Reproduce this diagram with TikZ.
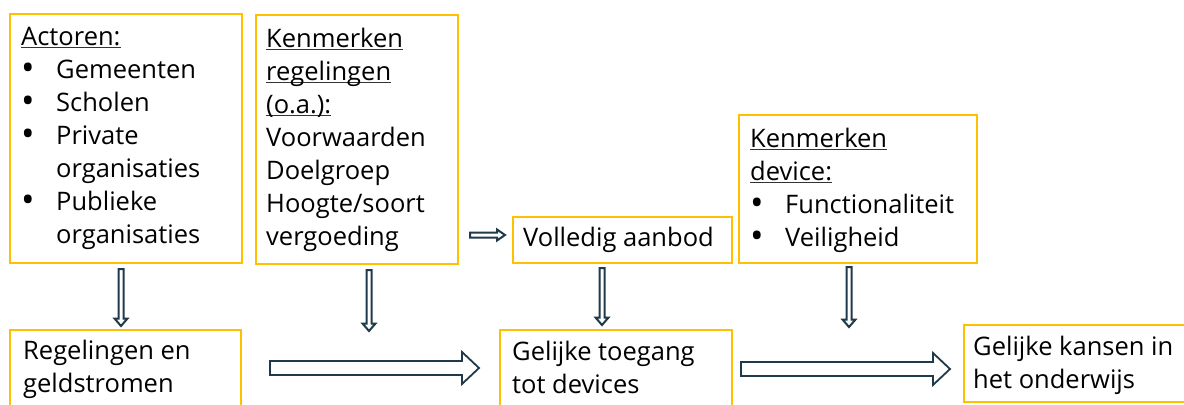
\documentclass[tikz,border=0pt]{standalone}
\usepackage{fontspec}
\setmainfont{Open Sans}
\usetikzlibrary{calc}
\definecolor{boxgold}{HTML}{FFC000}
\definecolor{arrnavy}{HTML}{1F3A4B}
\newcommand\ulx[1]{\setbox0\hbox{#1}\rlap{\color{black!80}\rule[-2.5bp]{\wd0}{1bp}}\box0}
\newcommand\bul{\makebox[35bp][l]{\raisebox{-2.5bp}{\fontsize{36bp}{33bp}\selectfont\textbullet}}}
\newcommand\ind{\hspace*{35bp}}
\begin{document}
\begin{tikzpicture}[x=1bp,y=-1bp,
  box/.style={draw=boxgold, line width=2bp, inner sep=0, anchor=north west},
  txt/.style={anchor=base west, inner sep=0, font=\fontsize{25.5bp}{33bp}\selectfont, text=black},
  vblk/.style args={#1/#2/#3}{draw=arrnavy, line width=1.8bp, fill=white, line join=miter,
    to path={let \p1=(\tikztostart), \p2=(\tikztotarget) in
      -- (\x1+#1,\y1) -- (\x1+#1,\y2+#3) -- (\x1+#2,\y2+#3) -- (\x1,\y2)
      -- (\x1-#2,\y2+#3) -- (\x1-#1,\y2+#3) -- (\x1-#1,\y1) -- cycle}},
  hblk/.style args={#1/#2/#3}{draw=arrnavy, line width=1.8bp, fill=white, line join=miter,
    to path={let \p1=(\tikztostart), \p2=(\tikztotarget) in
      -- (\x1,\y1+#1) -- (\x2-#3,\y1+#1) -- (\x2-#3,\y1+#2) -- (\x2,\y1)
      -- (\x2-#3,\y1-#2) -- (\x2-#3,\y1-#1) -- (\x1,\y1-#1) -- cycle}}
]
\useasboundingbox (0,0) rectangle (1184,404);
\clip (0,0) rectangle (1184,404);
\fill[white] (0,0) rectangle (1184,404);

% boxes
\node[box, minimum width=232bp, minimum height=249bp] (act) at (9,13) {};
\node[box, minimum width=202bp, minimum height=249bp] (kreg) at (255,14) {};
\node[box, minimum width=219bp, minimum height=46bp] (vol) at (512,216) {};
\node[box, minimum width=238bp, minimum height=148bp] (kdev) at (738,114) {};
\node[box, minimum width=231bp, minimum height=100bp] (reg) at (9,329) {};
\node[box, minimum width=232bp, minimum height=100bp] (gt) at (499,329) {};
\node[box, minimum width=240bp, minimum height=77bp] (gk) at (963,324) {};

% texts
\node[txt] (actT) at (21,45) {\vtop{\hbox{\ulx{Actoren:}}\hbox{\bul Gemeenten}\hbox{\bul Scholen}\hbox{\bul Private}\hbox{\ind organisaties}\hbox{\bul Publieke}\hbox{\ind organisaties}}};
\node[txt] (kregT) at (266,47) {\vtop{\hbox{\ulx{Kenmerken}}\hbox{\ulx{regelingen}}\hbox{\ulx{(o.a.):}}\hbox{Voorwaarden}\hbox{Doelgroep}\hbox{Hoogte/soort}\hbox{vergoeding}}};
\node[txt] (volT) at (523,246) {Volledig aanbod};
\node[txt] (kdevT) at (750,147) {\vtop{\hbox{\ulx{Kenmerken}}\hbox{\ulx{device:}}\hbox{\bul Functionaliteit}\hbox{\bul Veiligheid}}};
\node[txt] (regT) at (23,359) {\vtop{\hbox{Regelingen en}\hbox{geldstromen}}};
\node[txt] (gtT) at (512,360) {\vtop{\hbox{Gelijke toegang}\hbox{tot devices}}};
\node[txt] (gkT) at (973,355) {\vtop{\hbox{Gelijke kansen in}\hbox{het onderwijs}}};

% arrow end points
\coordinate (v1a) at ($(act.south)+(-5,5)$);
\coordinate (v1b) at ($(reg.north)+(-4.5,-3)$);
\coordinate (v2a) at ($(kreg.south)+(12,5)$);
\coordinate (v2b) at ($(kreg.south)+(12,66)$);
\coordinate (v3a) at ($(vol.south)+(-20.5,4)$);
\coordinate (v3b) at ($(gt.north)+(-14,-4)$);
\coordinate (v4a) at ($(kdev.south)+(-9,3)$);
\coordinate (v4b) at ($(kdev.south)+(-9,63)$);
\coordinate (h0a) at ($(vol.west)+(-42,-5)$);
\coordinate (h0b) at ($(vol.west)+(-7,-5)$);
\coordinate (h1a) at ($(reg.north east)+(28,39)$);
\coordinate (h1b) at ($(gt.north west)+(-20,39)$);
\coordinate (h2a) at ($(gt.north east)+(8,40)$);
\coordinate (h2b) at ($(gk.north west)+(-13,45)$);

% arrows
\draw[vblk=2.5bp/6.5bp/7.5bp, line width=2bp] (v1a) to (v1b);
\draw[vblk=2.5bp/6.5bp/7.5bp, line width=2bp] (v2a) to (v2b);
\draw[vblk=2.5bp/6.5bp/7.5bp, line width=2bp] (v3a) to (v3b);
\draw[vblk=2.5bp/6.5bp/7.5bp, line width=2bp] (v4a) to (v4b);
\draw[hblk=2.5bp/5.5bp/8bp, line width=2bp] (h0a) to (h0b);
\draw[hblk=7bp/16bp/17bp] (h1a) to (h1b);
\draw[hblk=7bp/16bp/17bp] (h2a) to (h2b);
\end{tikzpicture}
\end{document}
